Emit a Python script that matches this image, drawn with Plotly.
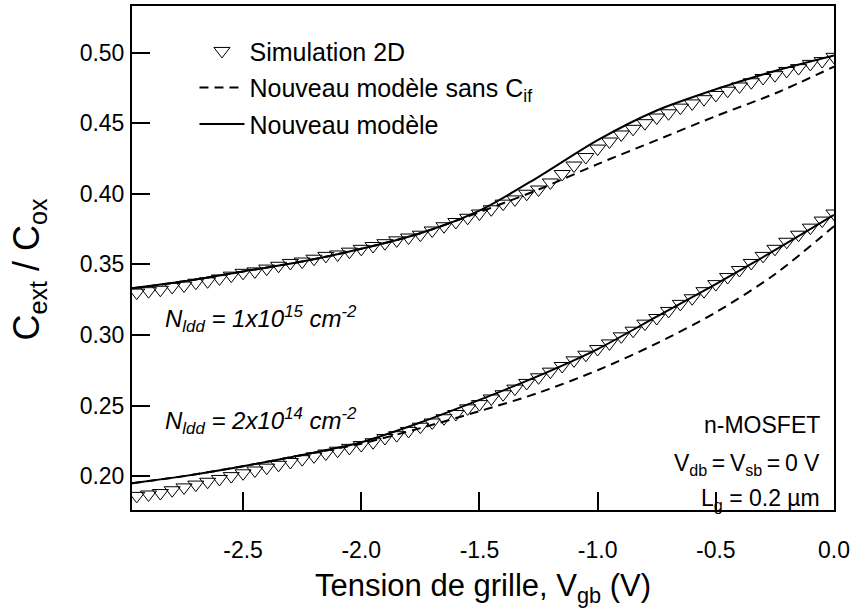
import plotly.graph_objects as go

# ---------------- data ----------------
# simulation grid (V_gb, V)
sim_vgb = [round(-2.95 + 0.05 * i, 2) for i in range(60)]

sim_1e15 = [0.330, 0.331, 0.332, 0.334, 0.335, 0.337, 0.338, 0.340, 0.342, 0.344,
            0.345, 0.347, 0.349, 0.351, 0.352, 0.354, 0.356, 0.357, 0.359, 0.361,
            0.363, 0.365, 0.367, 0.369, 0.371, 0.374, 0.377, 0.380, 0.383, 0.386,
            0.389, 0.393, 0.396, 0.400, 0.403, 0.408, 0.414, 0.420, 0.426, 0.432,
            0.437, 0.442, 0.446, 0.450, 0.454, 0.457, 0.461, 0.464, 0.467, 0.470,
            0.473, 0.476, 0.479, 0.482, 0.484, 0.487, 0.489, 0.492, 0.494, 0.497]

sim_2e14 = [0.186, 0.187, 0.188, 0.190, 0.192, 0.194, 0.196, 0.198, 0.200, 0.202,
            0.204, 0.206, 0.208, 0.210, 0.212, 0.214, 0.216, 0.218, 0.220, 0.222,
            0.224, 0.227, 0.229, 0.232, 0.235, 0.238, 0.241, 0.244, 0.248, 0.251,
            0.255, 0.258, 0.262, 0.266, 0.270, 0.274, 0.278, 0.282, 0.286, 0.290,
            0.294, 0.299, 0.303, 0.308, 0.312, 0.317, 0.322, 0.326, 0.331, 0.336,
            0.341, 0.346, 0.351, 0.356, 0.361, 0.366, 0.371, 0.376, 0.381, 0.386]

# model curves
mod_vgb = [-2.97, -2.75, -2.5, -2.25, -2.0, -1.75, -1.5, -1.25, -1.0, -0.75, -0.5, -0.25, 0.0]

model_1e15 = [0.333, 0.338, 0.345, 0.352, 0.361, 0.372, 0.388, 0.412, 0.438, 0.459, 0.474, 0.487, 0.498]
model_nocif_1e15 = [0.333, 0.338, 0.345, 0.352, 0.361, 0.372, 0.387, 0.403, 0.421, 0.438, 0.455, 0.471, 0.490]

model_2e14 = [0.195, 0.200, 0.207, 0.215, 0.224, 0.238, 0.254, 0.271, 0.290, 0.313, 0.336, 0.360, 0.385]
model_nocif_2e14 = [0.195, 0.200, 0.207, 0.215, 0.223, 0.234, 0.246, 0.259, 0.275, 0.294, 0.316, 0.343, 0.377]

x_ticks = [-2.5, -2.0, -1.5, -1.0, -0.5, 0.0]
y_ticks = [0.20, 0.25, 0.30, 0.35, 0.40, 0.45, 0.50]

FONT = "Liberation Sans, Arial, Helvetica, sans-serif"

fig = go.Figure()

marker_style = dict(symbol="triangle-down-open", size=14, color="black", line=dict(width=1, color="black"))

# simulation
fig.add_trace(go.Scatter(x=sim_vgb, y=sim_1e15, mode="markers", marker=marker_style,
                         name="Simulation 2D", legendgroup="sim", legendrank=1, showlegend=True))
fig.add_trace(go.Scatter(x=sim_vgb, y=sim_2e14, mode="markers", marker=marker_style,
                         name="Simulation 2D", legendgroup="sim", showlegend=False))

# model without C_if (dashed)
dash_line = dict(color="black", width=2, dash="9px,6px", shape="spline", smoothing=0.8)
fig.add_trace(go.Scatter(x=mod_vgb, y=model_nocif_1e15, mode="lines", line=dash_line,
                         name="Nouveau modèle sans C<sub>if</sub>", legendgroup="nocif",
                         legendrank=2, showlegend=True))
fig.add_trace(go.Scatter(x=mod_vgb, y=model_nocif_2e14, mode="lines", line=dash_line,
                         name="Nouveau modèle sans C<sub>if</sub>", legendgroup="nocif", showlegend=False))

# full model (solid)
solid_line = dict(color="black", width=2, shape="spline", smoothing=0.8)
fig.add_trace(go.Scatter(x=mod_vgb, y=model_1e15, mode="lines", line=solid_line,
                         name="Nouveau modèle", legendgroup="model", legendrank=3, showlegend=True))
fig.add_trace(go.Scatter(x=mod_vgb, y=model_2e14, mode="lines", line=solid_line,
                         name="Nouveau modèle", legendgroup="model", showlegend=False))

axis_common = dict(showline=True, linecolor="black", linewidth=2, mirror=True,
                   ticks="inside", ticklen=18, tickwidth=2, tickcolor="black",
                   showgrid=False, zeroline=False,
                   tickfont=dict(family=FONT, size=23, color="black"))

fig.update_xaxes(range=[-2.97, 0.0], tickvals=x_ticks, ticktext=[f"{v:.1f}" for v in x_ticks],
                 title=dict(text="Tension de grille, V<sub>gb</sub> (V)",
                            font=dict(family=FONT, size=31, color="black"), standoff=18),
                 ticklabelstandoff=18, **axis_common)
fig.update_yaxes(range=[0.176, 0.533], tickvals=y_ticks, ticktext=[f"{v:.2f}" for v in y_ticks],
                 ticklabelstandoff=1, **axis_common)

# y-axis title
fig.add_annotation(x=-0.146, y=0.478, xref="paper", yref="paper", xanchor="center", yanchor="middle",
                   text="C<sub>ext</sub> / C<sub>ox</sub>", textangle=-90, showarrow=False,
                   font=dict(family=FONT, size=36, color="black"))

ann_font = dict(family=FONT, size=24, color="black")
fig.add_annotation(x=-2.84, y=0.311, xref="x", yref="y", xanchor="left", yanchor="middle",
                   text="<i>N<sub>ldd</sub> = 1x10<sup>15</sup> cm<sup>-2</sup></i>",
                   showarrow=False, font=ann_font)
fig.add_annotation(x=-2.84, y=0.239, xref="x", yref="y", xanchor="left", yanchor="middle",
                   text="<i>N<sub>ldd</sub> = 2x10<sup>14</sup> cm<sup>-2</sup></i>",
                   showarrow=False, font=ann_font)

info_font = dict(family=FONT, size=23, color="black")
fig.add_annotation(x=0.983, y=0.168, xref="paper", yref="paper", xanchor="right", yanchor="middle",
                   text="n-MOSFET", showarrow=False, font=info_font)
fig.add_annotation(x=0.983, y=0.091, xref="paper", yref="paper", xanchor="right", yanchor="middle",
                   text="V<sub>db</sub>\u2009=\u2009V<sub>sb</sub>\u2009=\u20090 V", showarrow=False, font=info_font)
fig.add_annotation(x=0.983, y=0.020, xref="paper", yref="paper", xanchor="right", yanchor="middle",
                   text="L<sub>g</sub> = 0.2 µm", showarrow=False, font=info_font)

fig.update_layout(
    width=854, height=608,
    margin=dict(l=132, r=19, t=4, b=98),
    plot_bgcolor="white", paper_bgcolor="white",
    font=dict(family=FONT, color="black"),
    legend=dict(x=0.089, y=0.956, xanchor="left", yanchor="top",
                bgcolor="rgba(0,0,0,0)", borderwidth=0,
                font=dict(family=FONT, size=25, color="black"),
                tracegroupgap=1, traceorder="grouped", itemwidth=45),
)

fig.write_html("out.html", config={"displayModeBar": False},
               post_script="document.body.style.margin='0';")
